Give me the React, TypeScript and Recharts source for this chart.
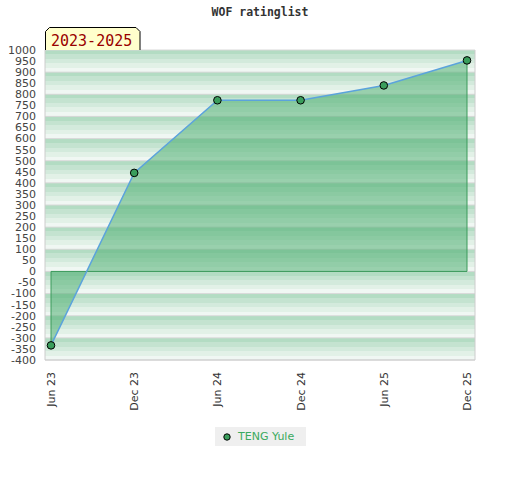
import React from 'react';
import {
  ComposedChart,
  Area,
  Line,
  XAxis,
  YAxis,
  CartesianGrid,
  ReferenceLine,
  Legend,
  Customized,
} from 'recharts';

const chartTitle = 'WOF ratinglist';
const periodLabel = '2023-2025';
const playerName = 'TENG Yule';

const months = ['Jun 23', 'Dec 23', 'Jun 24', 'Dec 24', 'Jun 25', 'Dec 25'];
const rating = [-334, 445, 773, 773, 840, 953];

const leftTicks = [
  -400, -350, -300, -250, -200, -150, -100, -50, 0, 50, 100, 150, 200, 250, 300,
  350, 400, 450, 500, 550, 600, 650, 700, 750, 800, 850, 900, 950, 1000,
];
const rightTicks = [-400, -300, -200, -100, 0, 100, 200, 300, 400, 500, 600, 700, 800, 900, 1000];
const rightLabels = [-400, -200, 0, 200, 400, 600, 800, 1000];
const yDomain = [-400, 1000];

const data = months.map((m, i) => ({ month: m, rating: rating[i] }));

const sans = 'DejaVu Sans, sans-serif';
const mono = 'DejaVu Sans Mono, monospace';

const XTick = (props: any) => {
  const { x, payload } = props;
  return (
    <text
      transform={`translate(${x + 4},372) rotate(-90)`}
      textAnchor="end"
      fontSize={11}
      fontFamily={sans}
      fill="#333"
    >
      {payload.value}
    </text>
  );
};

const RightTick = (props: any) => {
  const { x, y, payload } = props;
  const showLabel = rightLabels.includes(payload.value);
  return (
    <g>
      <line x1={x - 5} y1={y} x2={x - 1} y2={y} stroke="#222" strokeWidth={1} />
      {showLabel && (
        <text x={x + 7} y={y} dy="0.355em" textAnchor="start" fontSize={11} fontFamily={sans} fill="#222">
          {payload.value}
        </text>
      )}
    </g>
  );
};

// grid rows every 100 points, placed with the y scale when available
const gridRows = (args: any) => {
  const { yAxis, offset } = args;
  if (yAxis && yAxis.scale) {
    return rightTicks.map((t) => yAxis.scale(t));
  }
  const [lo, hi] = yDomain;
  return rightTicks.map((t) => offset.top + ((hi - t) / (hi - lo)) * offset.height);
};

// title, period tag and the stripe gradient
const Decor = () => (
  <g>
    <defs>
      <linearGradient id="wofBand" x1="0" y1="0" x2="0" y2="1">
        <stop offset="0" stopColor="#b3dcc3" />
        <stop offset="0.2" stopColor="#b3dcc3" />
        <stop offset="0.2" stopColor="#c4e3d0" />
        <stop offset="0.4" stopColor="#c4e3d0" />
        <stop offset="0.4" stopColor="#d3eadc" />
        <stop offset="0.6" stopColor="#d3eadc" />
        <stop offset="0.6" stopColor="#e2f1e7" />
        <stop offset="0.8" stopColor="#e2f1e7" />
        <stop offset="0.8" stopColor="#f0f7f3" />
        <stop offset="1" stopColor="#f0f7f3" />
      </linearGradient>
    </defs>
    <text x={260} y={16} textAnchor="middle" fontSize={11.5} fontWeight="bold" fontFamily={mono} fill="#333">
      {chartTitle}
    </text>
    <path d="M45.5,50 L45.5,31.5 L49.5,27.5 L136,27.5 L140,31.5 L140,50" fill="#ffffcc" stroke="#000" strokeWidth={1} />
    <text x={51} y={45.5} fontSize={15} fontFamily={mono} fill="#990000">
      {periodLabel}
    </text>
  </g>
);

const renderLegend = (props: any) => {
  const items = (props.payload || []).filter((e: any) => e.type !== 'none' && e.value === playerName);
  return (
    <div
      style={{
        background: '#efefef',
        height: 19,
        display: 'flex',
        alignItems: 'center',
        fontFamily: sans,
        fontSize: 11,
        whiteSpace: 'nowrap',
      }}
    >
      {items.map((entry: any) => (
        <div key={entry.value} style={{ display: 'flex', alignItems: 'center', marginLeft: 8 }}>
          <svg width={8} height={8} style={{ marginRight: 7 }}>
            <circle cx={4} cy={4} r={3.2} fill="#3a9e5c" stroke="#000" strokeWidth={1} />
          </svg>
          <span style={{ color: '#3aaa5e' }}>{entry.value}</span>
        </div>
      ))}
    </div>
  );
};

const first = months[0];
const last = months[months.length - 1];

export default function App() {
  return (
    <div style={{ position: 'absolute', left: 0, top: 0 }}>
      <ComposedChart width={520} height={480} data={data} margin={{ top: 50, right: 0, bottom: 0, left: 0 }}>
        <Customized component={<Decor />} />
        <CartesianGrid
          yAxisId="right"
          vertical={false}
          stroke="#d8d8d8"
          horizontalCoordinatesGenerator={gridRows}
          horizontalFill={['url(#wofBand)']}
          fillOpacity={1}
        />
        <XAxis
          dataKey="month"
          padding={{ left: 6, right: 8 }}
          height={120}
          interval={0}
          tickLine={false}
          axisLine={{ stroke: '#cccccc' }}
          tick={<XTick />}
        />
        <YAxis
          yAxisId="left"
          domain={yDomain}
          ticks={leftTicks}
          interval={0}
          width={45}
          tickLine={false}
          tickMargin={3}
          axisLine={{ stroke: '#cccccc' }}
          tick={{ fill: '#444', fontSize: 11, fontFamily: sans }}
        />
        <YAxis
          yAxisId="right"
          orientation="right"
          domain={yDomain}
          ticks={rightTicks}
          interval={0}
          width={45}
          tickLine={false}
          tickSize={0}
          tickMargin={0}
          axisLine={{ stroke: '#cccccc' }}
          tick={<RightTick />}
        />
        <Area
          yAxisId="left"
          dataKey="rating"
          baseValue={0}
          fill="#4bad70"
          fillOpacity={0.53}
          stroke="none"
          legendType="none"
          isAnimationActive={false}
        />
        <ReferenceLine yAxisId="left" segment={[{ x: first, y: 0 }, { x: first, y: rating[0] }]} stroke="#3a9a5a" />
        <ReferenceLine yAxisId="left" segment={[{ x: first, y: 0 }, { x: last, y: 0 }]} stroke="#3a9a5a" />
        <ReferenceLine
          yAxisId="left"
          segment={[{ x: last, y: 0 }, { x: last, y: rating[rating.length - 1] }]}
          stroke="#3a9a5a"
        />
        <Line
          yAxisId="left"
          dataKey="rating"
          name={playerName}
          stroke="#5ba3dc"
          strokeWidth={1.5}
          dot={{ r: 3.8, fill: '#3a9e5c', stroke: '#000', strokeWidth: 1 }}
          activeDot={false}
          isAnimationActive={false}
        />
        <Legend
          layout="horizontal"
          align="center"
          verticalAlign="middle"
          wrapperStyle={{ top: 427, left: 215, width: 91, height: 19 }}
          content={renderLegend}
        />
      </ComposedChart>
    </div>
  );
}
